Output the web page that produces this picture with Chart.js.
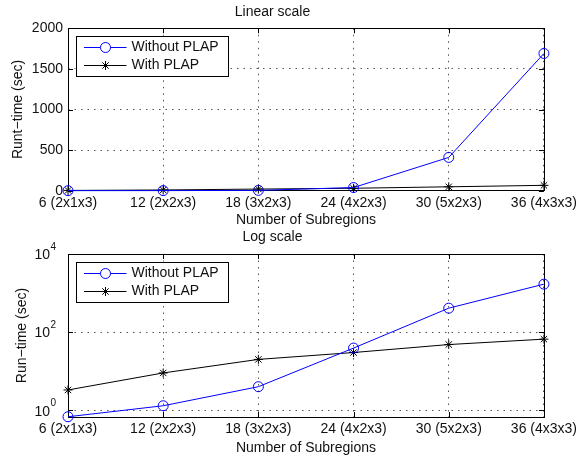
<!DOCTYPE html>
<html>
<head>
<meta charset="utf-8">
<script src="https://cdn.jsdelivr.net/npm/chart.js@4.4.0/dist/chart.umd.min.js"></script>
<style>
  html, body { margin: 0; padding: 0; background: #fff; }
  .box { position: absolute; left: 0; width: 581px; }
  #top { top: 0; height: 229px; }
  #bottom { top: 229px; height: 228px; }
</style>
</head>
<body>
<div class="box" id="top"><canvas id="linChart"></canvas></div>
<div class="box" id="bottom"><canvas id="logChart"></canvas></div>
<script>
'use strict';

// data
let subregions = ['6 (2x1x3)', '12 (2x2x3)', '18 (3x2x3)', '24 (4x2x3)', '30 (5x2x3)', '36 (4x3x3)'];
let withoutPlap = [0.68, 1.3, 4.0, 39, 410, 1690];
let withPlap = [3.3, 9.0, 20, 30, 48, 66];
let linearTicks = [0, 500, 1000, 1500, 2000];
let logTicks = [1, 100, 10000];
let logExponents = ['0', '2', '4'];

let FONT = 'Liberation Sans, Arial, Helvetica, sans-serif';
let TEXT = '#111';

Chart.defaults.font.family = FONT;
Chart.defaults.font.size = 14;
Chart.defaults.color = TEXT;

function makeDatasets() {
  return [{
    label: 'Without PLAP',
    data: withoutPlap,
    borderColor: '#0000ff',
    backgroundColor: 'rgba(0,0,0,0)',
    borderWidth: 1,
    pointStyle: 'circle',
    pointRadius: 5,
    pointBorderWidth: 1,
    pointBorderColor: '#0000ff',
    pointBackgroundColor: 'rgba(0,0,0,0)',
    tension: 0,
    clip: false
  }, {
    label: 'With PLAP',
    data: withPlap,
    borderColor: '#000000',
    backgroundColor: 'rgba(0,0,0,0)',
    borderWidth: 1,
    pointStyle: 'star',
    pointRadius: 4.5,
    pointBorderWidth: 1,
    pointBorderColor: '#000000',
    tension: 0,
    clip: false
  }];
}

// box round the plot area + small inward ticks on all four sides
let framePlugin = {
  id: 'frame',
  beforeDatasetsDraw(chart) {
    let ctx = chart.ctx;
    let a = chart.chartArea;
    let xs = chart.scales.x;
    let ys = chart.scales.y;
    ctx.save();
    ctx.strokeStyle = '#000';
    ctx.lineWidth = 1;
    ctx.strokeRect(Math.round(a.left) + 0.5, Math.round(a.top) + 0.5,
      Math.round(a.right - a.left), Math.round(a.bottom - a.top));
    ctx.beginPath();
    xs.ticks.forEach(function (t, i) {
      let x = Math.round(xs.getPixelForTick(i)) + 0.5;
      ctx.moveTo(x, a.bottom); ctx.lineTo(x, a.bottom - 5);
      ctx.moveTo(x, a.top); ctx.lineTo(x, a.top + 5);
    });
    ys.ticks.forEach(function (t) {
      let y = Math.round(ys.getPixelForValue(t.value)) + 0.5;
      ctx.moveTo(a.left, y); ctx.lineTo(a.left + 5, y);
      ctx.moveTo(a.right, y); ctx.lineTo(a.right - 5, y);
    });
    ctx.stroke();
    ctx.restore();
  }
};

// matlab style legend box in the top left corner
let boxLegend = {
  id: 'boxLegend',
  afterDraw(chart) {
    let ctx = chart.ctx;
    let a = chart.chartArea;
    let left = a.left + 7.5;
    let top = a.top + 7.5;
    ctx.save();
    ctx.fillStyle = '#fff';
    ctx.fillRect(left, top, 152, 40);
    ctx.strokeStyle = '#000';
    ctx.lineWidth = 1;
    ctx.strokeRect(Math.round(left) + 0.5, Math.round(top) + 0.5, 152, 40);
    chart.data.datasets.forEach(function (ds, i) {
      let y = Math.round(top + 11.5 + i * 17.5) + 0.5;
      ctx.strokeStyle = ds.borderColor;
      ctx.beginPath();
      ctx.moveTo(left + 8.5, y);
      ctx.lineTo(left + 51, y);
      ctx.stroke();
      Chart.helpers.drawPoint(ctx, {
        pointStyle: ds.pointStyle,
        radius: ds.pointRadius,
        borderWidth: 1,
        rotation: 0
      }, left + 30, y);
      ctx.fillStyle = TEXT;
      ctx.font = '14px ' + FONT;
      ctx.textBaseline = 'middle';
      ctx.textAlign = 'left';
      ctx.fillText(ds.label, left + 56, y);
    });
    ctx.restore();
  }
};

// 10^n labels with a raised exponent
let powerLabels = {
  id: 'powerLabels',
  afterDraw(chart) {
    let ctx = chart.ctx;
    let ys = chart.scales.y;
    ctx.save();
    ctx.fillStyle = TEXT;
    ctx.textBaseline = 'middle';
    logTicks.forEach(function (v, i) {
      let y = ys.getPixelForValue(v);
      ctx.font = '14px ' + FONT;
      ctx.textAlign = 'right';
      ctx.fillText('10', 50, y + 1.5);
      ctx.font = '10px ' + FONT;
      ctx.textAlign = 'left';
      ctx.fillText(logExponents[i], 50.5, y - 6.5);
    });
    ctx.restore();
  }
};

let gridStyle = {
  color: '#555',
  lineWidth: 1,
  drawTicks: false
};
let borderStyle = { display: false, dash: [1.5, 5] };

let linearObj = {
  type: 'line',
  data: { labels: subregions, datasets: makeDatasets() },
  options: {
    responsive: true,
    maintainAspectRatio: false,
    animation: false,
    layout: { padding: { left: 0, right: 36, top: 0, bottom: 0 } },
    scales: {
      x: {
        type: 'category',
        offset: false,
        grid: gridStyle,
        border: borderStyle,
        ticks: { padding: 4, maxRotation: 0, autoSkip: false },
        title: { display: true, text: 'Number of Subregions', padding: { top: 0, bottom: 0 } },
        afterFit(scale) { scale.height = 38.3; }
      },
      y: {
        min: 0,
        max: 2000,
        grid: gridStyle,
        border: borderStyle,
        afterBuildTicks(scale) {
          scale.ticks = linearTicks.map(function (v) { return { value: v }; });
        },
        ticks: {
          padding: 5,
          callback: function (value) { return String(value); }
        },
        title: { display: true, text: 'Runt\u2212time (sec)', padding: { top: 9.6, bottom: 0 } },
        afterFit(scale) { scale.width = 68; }
      }
    },
    plugins: {
      legend: { display: false },
      tooltip: { enabled: false },
      title: {
        display: true,
        text: 'Linear scale',
        font: { size: 14, weight: 'normal' },
        color: TEXT,
        padding: { top: 4, bottom: 7.5 }
      }
    }
  },
  plugins: [framePlugin, boxLegend]
};

let logObj = {
  type: 'line',
  data: { labels: subregions, datasets: makeDatasets() },
  options: {
    responsive: true,
    maintainAspectRatio: false,
    animation: false,
    layout: { padding: { left: 0, right: 36, top: 0, bottom: 0 } },
    scales: {
      x: {
        type: 'category',
        offset: false,
        grid: gridStyle,
        border: borderStyle,
        ticks: { padding: 4, maxRotation: 0, autoSkip: false },
        title: { display: true, text: 'Number of Subregions', padding: { top: 0, bottom: 0.9 } },
        afterFit(scale) { scale.height = 40; }
      },
      y: {
        type: 'logarithmic',
        min: 0.67,
        max: 10000,
        grid: gridStyle,
        border: borderStyle,
        afterBuildTicks(scale) {
          scale.ticks = logTicks.map(function (v) { return { value: v }; });
        },
        ticks: { callback: function () { return ''; } },
        title: { display: true, text: 'Run\u2212time (sec)', padding: { top: 13.6, bottom: 0 } },
        afterFit(scale) { scale.width = 68; }
      }
    },
    plugins: {
      legend: { display: false },
      tooltip: { enabled: false },
      title: {
        display: true,
        text: 'Log scale',
        font: { size: 14, weight: 'normal' },
        color: TEXT,
        padding: { top: 0, bottom: 8.2 }
      }
    }
  },
  plugins: [framePlugin, boxLegend, powerLabels]
};

new Chart(document.getElementById('linChart'), linearObj);
new Chart(document.getElementById('logChart'), logObj);
</script>
</body>
</html>
